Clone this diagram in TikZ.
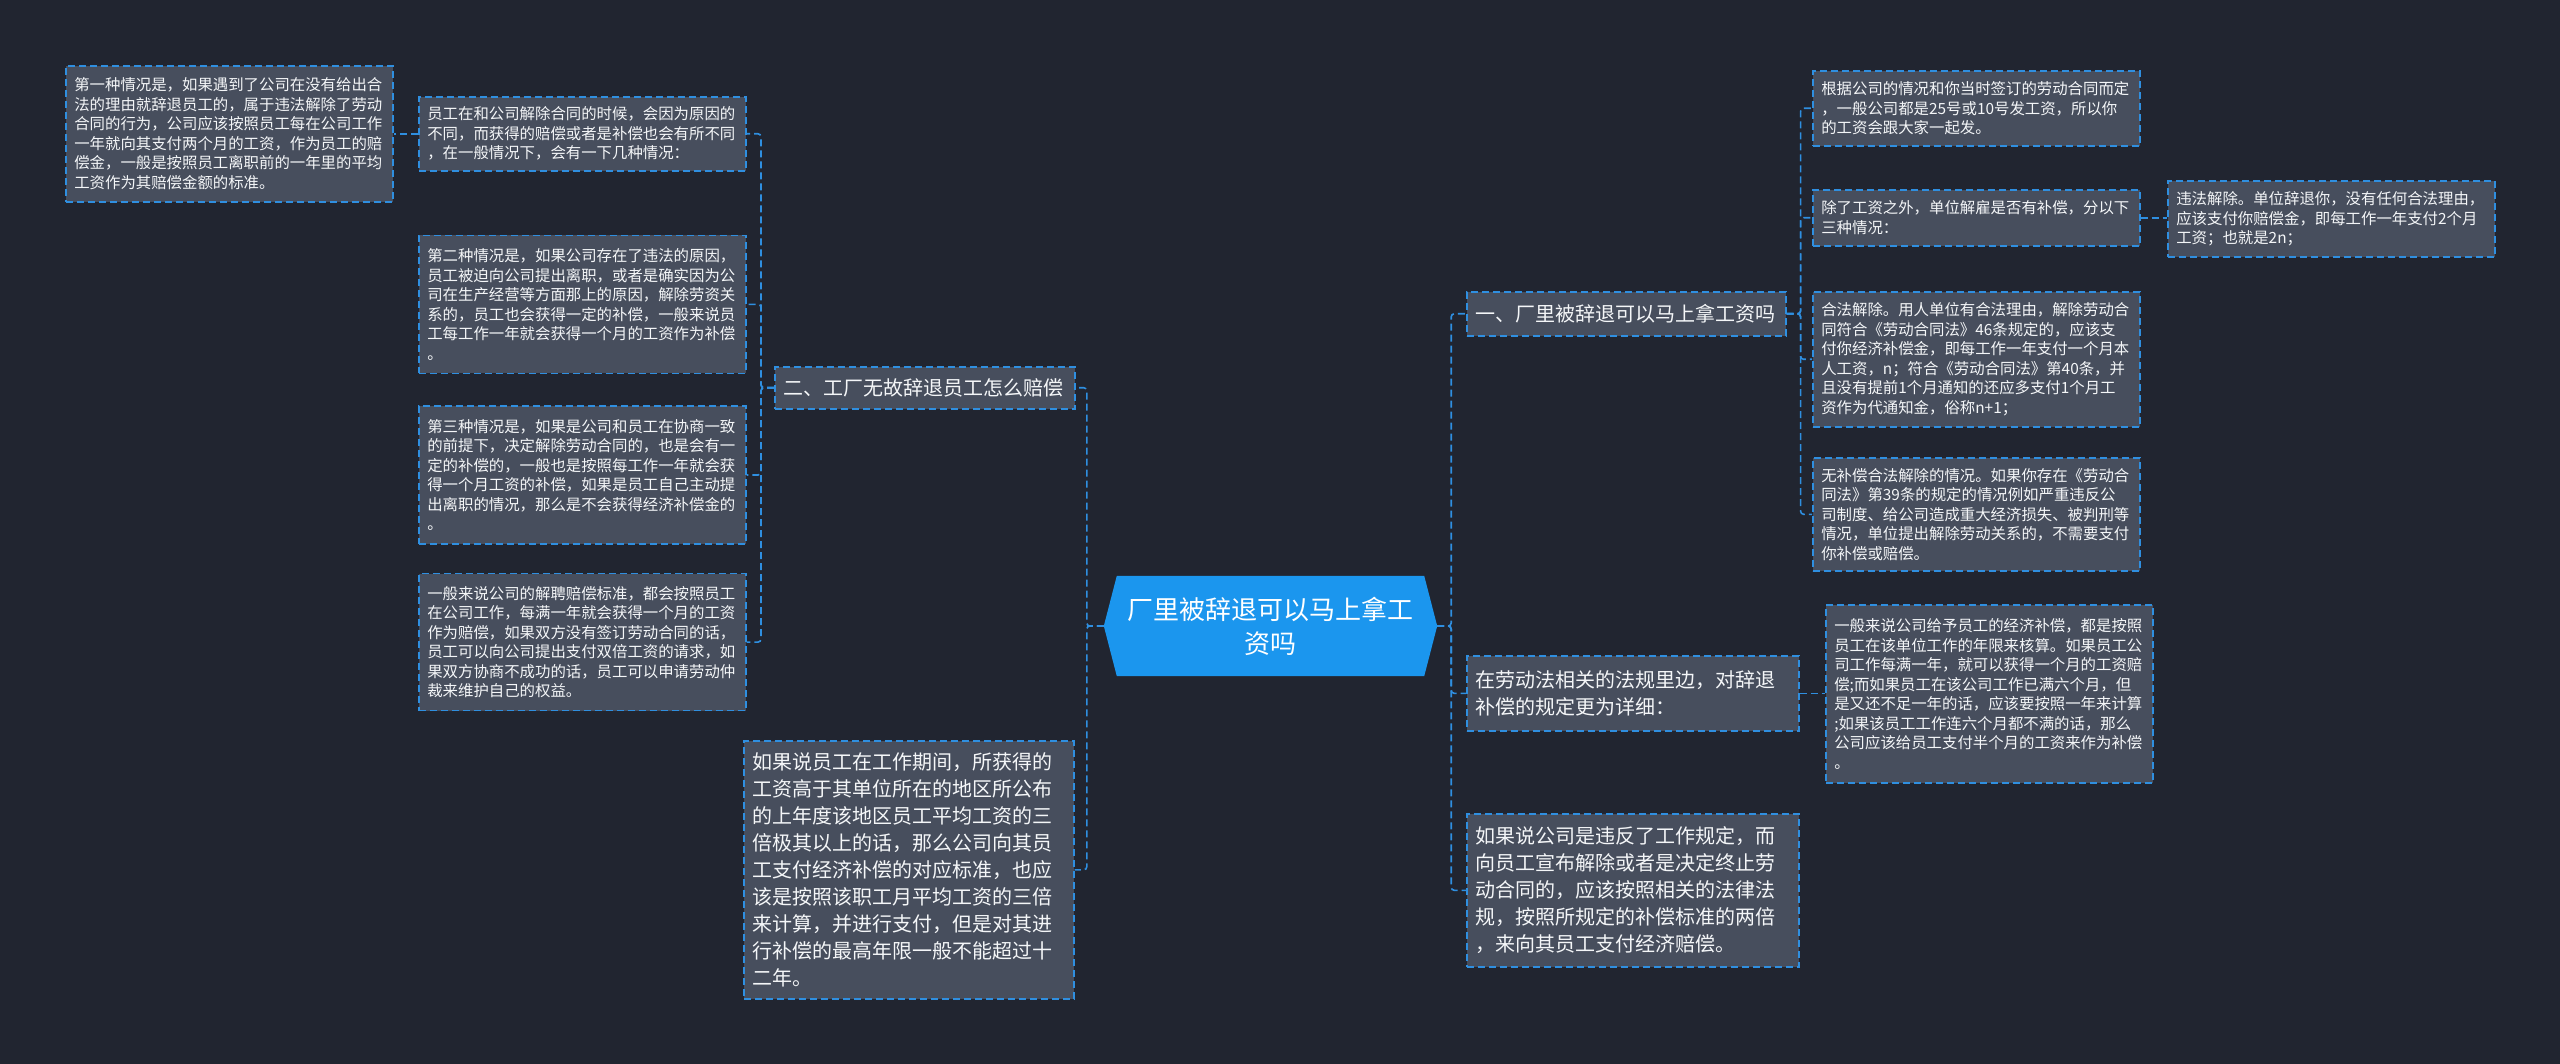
\documentclass[tikz,border=0pt]{standalone}
\usepackage{fontspec}
\setmainfont{Noto Sans CJK SC}
\usetikzlibrary{positioning, backgrounds}
\definecolor{mapBg}{HTML}{212530}
\definecolor{boxGray}{HTML}{474E5D}
\definecolor{linkBlue}{HTML}{2F8FE0}
\definecolor{rootBlue}{HTML}{1B96EE}
\definecolor{textWhite}{HTML}{F4F6F8}

\begin{document}
\begin{tikzpicture}[x=1pt, y=-1pt,
    card/.style={draw=linkBlue, line width=1.6pt, dash pattern=on 7pt off 4pt,
                 fill=boxGray, text=textWhite, align=left, anchor=north west,
                 inner xsep=8.5pt, inner ysep=0pt},
    leaf/.style={card, text width=310pt, font=\fontsize{15.4}{19.5}\selectfont},
    branch/.style={card, text width=#1, font=\fontsize{20}{27}\selectfont},
    link/.style={draw=linkBlue, line width=1.6pt, dash pattern=on 7pt off 4pt,
                 rounded corners=3pt},
  ]
    % centre topic
    \node[text=white, font=\fontsize{26}{34}\selectfont, align=center,
          minimum width=333pt, minimum height=100pt] (root) at (1270.5,626)
      {厂里被辞退可以马上拿工\\资吗};
    \begin{scope}[on background layer]
      \fill[mapBg] (0,0) rectangle (2560,1064);
      \fill[rootBlue] ([xshift=13pt]root.north west) -- ([xshift=-13pt]root.north east)
        -- (root.east) -- ([xshift=-13pt]root.south east)
        -- ([xshift=13pt]root.south west) -- (root.west) -- cycle;
    \end{scope}

    % left side
    \node[branch=283pt, minimum height=42pt] (L1) at (774,366) {二、工厂无故辞退员工怎么赔偿};
    \node[branch=313pt, minimum height=258pt] (L2) at (743,740)
      {如果说员工在工作期间，所获得的\\工资高于其单位所在的地区所公布\\的上年度该地区员工平均工资的三\\倍极其以上的话，那么公司向其员\\工支付经济补偿的对应标准，也应\\该是按照该职工月平均工资的三倍\\来计算，并进行支付，但是对其进\\行补偿的最高年限一般不能超过十\\二年。};

    \node[leaf, minimum height=74pt] (c1) at (418,96)
      {员工在和公司解除合同的时候，会因为原因的\\不同，而获得的赔偿或者是补偿也会有所不同\\，在一般情况下，会有一下几种情况：};
    \node[leaf, minimum height=138pt, below=63pt of c1] (c2)
      {第二种情况是，如果公司存在了违法的原因，\\员工被迫向公司提出离职，或者是确实因为公\\司在生产经营等方面那上的原因，解除劳资关\\系的，员工也会获得一定的补偿，一般来说员\\工每工作一年就会获得一个月的工资作为补偿\\。};
    \node[leaf, minimum height=138pt, below=31pt of c2] (c3)
      {第三种情况是，如果是公司和员工在协商一致\\的前提下，决定解除劳动合同的，也是会有一\\定的补偿的，一般也是按照每工作一年就会获\\得一个月工资的补偿，如果是员工自己主动提\\出离职的情况，那么是不会获得经济补偿金的\\。};
    \node[leaf, minimum height=137pt, below=28pt of c3] (c4)
      {一般来说公司的解聘赔偿标准，都会按照员工\\在公司工作，每满一年就会获得一个月的工资\\作为赔偿，如果双方没有签订劳动合同的话，\\员工可以向公司提出支付双倍工资的请求，如\\果双方协商不成功的话，员工可以申请劳动仲\\裁来维护自己的权益。};
    \node[leaf, minimum height=136pt] (p1) at (65,65)
      {第一种情况是，如果遇到了公司在没有给出合\\法的理由就辞退员工的，属于违法解除了劳动\\合同的行为，公司应该按照员工每在公司工作\\一年就向其支付两个月的工资，作为员工的赔\\偿金，一般是按照员工离职前的一年里的平均\\工资作为其赔偿金额的标准。};

    % right side
    \node[branch=302pt, minimum height=44pt] (R1) at (1466,291) {一、厂里被辞退可以马上拿工资吗};
    \node[branch=315pt, minimum height=75pt] (R2) at (1466,655)
      {在劳动法相关的法规里边，对辞退\\补偿的规定更为详细：};
    \node[branch=315pt, minimum height=153pt] (R3) at (1466,813)
      {如果说公司是违反了工作规定，而\\向员工宣布解除或者是决定终止劳\\动合同的，应该按照相关的法律法\\规，按照所规定的补偿标准的两倍\\，来向其员工支付经济赔偿。};

    \node[leaf, minimum height=75pt] (r1a) at (1812,70)
      {根据公司的情况和你当时签订的劳动合同而定\\，一般公司都是25号或10号发工资，所以你\\的工资会跟大家一起发。};
    \node[leaf, minimum height=56pt] (r1b) at (1812,189)
      {除了工资之外，单位解雇是否有补偿，分以下\\三种情况：};
    \node[leaf, minimum height=135pt] (r1c) at (1812,291)
      {合法解除。用人单位有合法理由，解除劳动合\\同符合《劳动合同法》46条规定的，应该支\\付你经济补偿金，即每工作一年支付一个月本\\人工资，n；符合《劳动合同法》第40条，并\\且没有提前1个月通知的还应多支付1个月工\\资作为代通知金，俗称n+1；};
    \node[leaf, minimum height=113pt] (r1d) at (1812,457)
      {无补偿合法解除的情况。如果你存在《劳动合\\同法》第39条的规定的情况例如严重违反公\\司制度、给公司造成重大经济损失、被判刑等\\情况，单位提出解除劳动关系的，不需要支付\\你补偿或赔偿。};
    \node[leaf, minimum height=76pt] (q1) at (2167,180)
      {违法解除。单位辞退你，没有任何合法理由，\\应该支付你赔偿金，即每工作一年支付2个月\\工资；也就是2n；};
    \node[leaf, minimum height=178pt] (s1) at (1825,604)
      {一般来说公司给予员工的经济补偿，都是按照\\员工在该单位工作的年限来核算。如果员工公\\司工作每满一年，就可以获得一个月的工资赔\\偿;而如果员工在该公司工作已满六个月，但\\是又还不足一年的话，应该要按照一年来计算\\;如果该员工工作连六个月都不满的话，那么\\公司应该给员工支付半个月的工资来作为补偿\\。};

    % connectors
    \draw[link] (root.west) -- ++(-17,0) |- (L1.east);
    \draw[link] (root.west) -- ++(-17,0) |- (L2.east);
    \draw[link] (L1.west) -- ++(-13,0) |- (c1.east);
    \draw[link] (L1.west) -- ++(-13,0) |- (c2.east);
    \draw[link] (L1.west) -- ++(-13,0) |- (c3.east);
    \draw[link] (L1.west) -- ++(-13,0) |- (c4.east);
    \draw[link] (c1.west) -- (p1.east);

    \draw[link] (root.east) -- ++(14,0) |- (R1.west);
    \draw[link] (root.east) -- ++(14,0) |- (R2.west);
    \draw[link] (root.east) -- ++(14,0) |- (R3.west);
    \draw[link] (R1.east) -- ++(14,0) |- (r1a.west);
    \draw[link] (R1.east) -- ++(14,0) |- (r1b.west);
    \draw[link] (R1.east) -- ++(14,0) |- (r1c.west);
    \draw[link] (R1.east) -- ++(14,0) |- (r1d.west);
    \draw[link] (r1b.east) -- (r1b.east -| q1.west);
    \draw[link] (R2.east) -- (R2.east -| s1.west);
  \end{tikzpicture}
\end{document}
